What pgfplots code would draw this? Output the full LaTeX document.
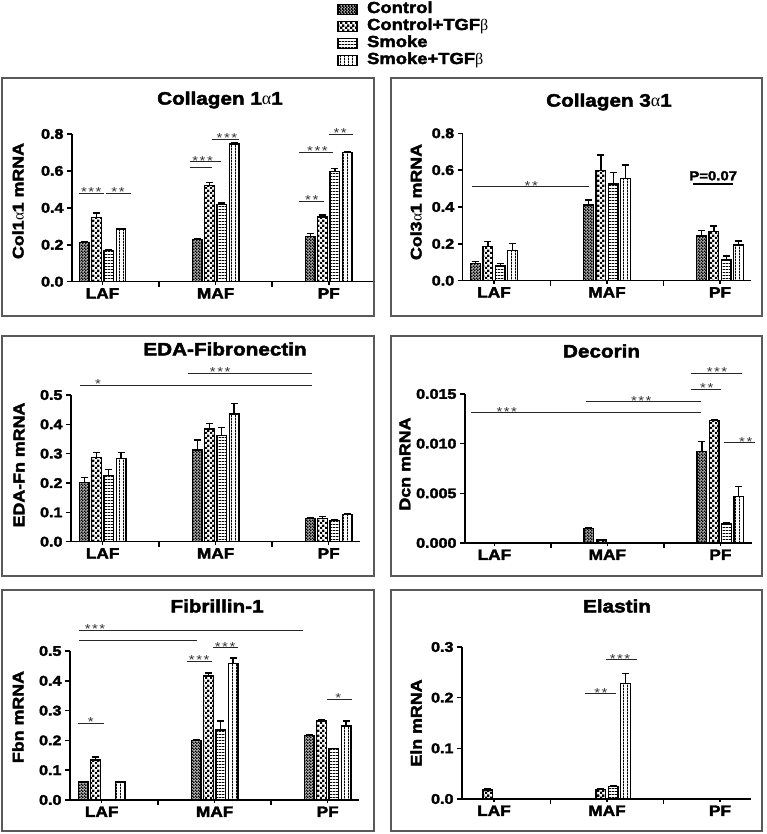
\documentclass[border=0pt]{standalone}
\usepackage{fontspec}
\setmainfont{Liberation Sans}[FakeStretch=1.15]
\newfontfamily\hb{Liberation Sans Bold}[FakeStretch=1.15, FakeBold=2.5]
\newfontfamily\symb{Liberation Serif}
\usepackage{pgfplots}
\pgfplotsset{compat=1.18}
\usetikzlibrary{patterns}

% bar fills
\pgfdeclarepatternformonly{finecheck}{\pgfpointorigin}{\pgfpoint{2.8pt}{2.8pt}}{\pgfpoint{2.8pt}{2.8pt}}{%
  \pgfseteorule
  \pgfpathrectangle{\pgfpointorigin}{\pgfpoint{2.8pt}{2.8pt}}%
  \pgfpathrectangle{\pgfpoint{0.1pt}{0.1pt}}{\pgfpoint{1.15pt}{1.15pt}}%
  \pgfpathrectangle{\pgfpoint{1.5pt}{1.5pt}}{\pgfpoint{1.15pt}{1.15pt}}%
  \pgfusepath{fill}}
\pgfdeclarepatternformonly{coarsecheck}{\pgfpointorigin}{\pgfpoint{5pt}{5pt}}{\pgfpoint{5pt}{5pt}}{%
  \pgfpathrectangle{\pgfpointorigin}{\pgfpoint{2.6pt}{2.6pt}}%
  \pgfpathrectangle{\pgfpoint{2.5pt}{2.5pt}}{\pgfpoint{2.6pt}{2.6pt}}%
  \pgfusepath{fill}}
\pgfdeclarepatternformonly{hlines}{\pgfpointorigin}{\pgfpoint{3pt}{3pt}}{\pgfpoint{3pt}{3pt}}{%
  \pgfpathrectangle{\pgfpointorigin}{\pgfpoint{3pt}{1.2pt}}%
  \pgfusepath{fill}}
\pgfdeclarepatternformonly{vlines}{\pgfpointorigin}{\pgfpoint{3.5pt}{3pt}}{\pgfpoint{3.5pt}{3pt}}{%
  \pgfpathrectangle{\pgfpointorigin}{\pgfpoint{1.1pt}{3pt}}%
  \pgfusepath{fill}}

\newcommand{\al}{{\symb α}}
\newcommand{\be}{{\symb β}}
\newcommand{\sthree}{*\kern1.5pt*\kern1.5pt*}
\newcommand{\stwo}{*\kern1.5pt*}

\pgfplotsset{
  bar base/.style={draw=black, line width=1.3pt, pattern color=black,
    legend image code/.code={\draw[##1] (0pt,-5pt) rectangle (19pt,5pt);},
    error bars/y dir=plus, error bars/y explicit,
    error bars/error bar style={line width=1.3pt, black},
    error bars/error mark options={rotate=90, mark size=3.5pt, line width=1.3pt, black}},
  b1/.style={bar base, pattern=finecheck},
  b2/.style={bar base, pattern=coarsecheck},
  b3/.style={bar base, pattern=hlines},
  b4/.style={bar base, pattern=vlines},
  panel/.style={
    scale only axis, anchor=south west, clip=false,
    axis lines*=left,
    axis line style={line width=1.5pt},
    tick style={black, line width=1.5pt},
    tick align=outside, major tick length=5pt,
    ybar=2.7pt, bar width=9.6pt,
    ymin=0, enlargelimits=false,
    xtick={0.5,1.5}, xticklabels={},
    extra x ticks={0,1,2}, extra x tick labels={LAF,MAF,PF},
    extra x tick style={major tick length=3pt,
      xticklabel style={font=\hb\fontsize{15}{16}\selectfont}},
    scaled y ticks=false,
    yticklabel style={font=\hb\fontsize{14}{15}\selectfont,
      /pgf/number format/.cd, fixed, fixed zerofill, precision=1, assume math mode=true},
  },
}
\tikzset{
  sl/.style={line width=0.9pt, black!85},
  st/.style={font=\fontsize{13}{13}\selectfont, anchor=base, inner sep=0pt, yshift=-3.5pt, black!80},
  ttl/.style={font=\hb\fontsize{18}{19}\selectfont},
  yl/.style={font=\hb\fontsize{15.5}{16}\selectfont, rotate=90},
  frame/.style={draw=black!65, line width=1.3pt},
}

\begin{document}
\begin{tikzpicture}
\useasboundingbox (0,0) rectangle (766pt,834pt);

% Collagen 1a1
\begin{axis}[panel, at={(72pt,552.3pt)}, width=302pt, height=147.7pt,
  xmin=-0.27, xmax=2.40, ymax=0.8, ytick={0,0.2,...,0.8},
  legend entries={Control, Control+TGF\be, Smoke, Smoke+TGF\be},
  legend style={draw=none, fill=none, at={(0.878,1.895)}, anchor=north west,
    font=\hb\fontsize{16}{17}\selectfont, legend cell align=left,
    row sep=2.5pt, column sep=9pt, inner sep=0pt,
    nodes={inner sep=0.5pt, text height=10.5pt, text depth=3pt}}]
\addplot[b1] coordinates {(0,0.214)+-(0,0.005) (1,0.228)+-(0,0.006) (2,0.243)+-(0,0.018)};
\addplot[b2] coordinates {(0,0.347)+-(0,0.025) (1,0.521)+-(0,0.016) (2,0.350)+-(0,0.012)};
\addplot[b3] coordinates {(0,0.168)+-(0,0.006) (1,0.420)+-(0,0.006) (2,0.596)+-(0,0.016)};
\addplot[b4] coordinates {(0,0.285)+-(0,0.005) (1,0.746)+-(0,0.006) (2,0.700)+-(0,0.005)};
\draw[sl] (-0.205,0.48) -- (0.013,0.48); \node[st] at (-0.10,0.48) {\sthree};
\draw[sl] (0.031,0.48) -- (0.25,0.48);   \node[st] at (0.137,0.48) {\stwo};
\draw[sl] (0.77,0.62) -- (0.97,0.62);
\draw[sl] (0.77,0.651) -- (1.05,0.651);  \node[st] at (0.885,0.651) {\sthree};
\draw[sl] (0.97,0.773) -- (1.21,0.773);  \node[st] at (1.10,0.773) {\sthree};
\draw[sl] (1.74,0.435) -- (1.96,0.435);  \node[st] at (1.85,0.435) {\stwo};
\draw[sl] (1.74,0.70) -- (2.04,0.70);    \node[st] at (1.90,0.70) {\sthree};
\draw[sl] (2.0,0.80) -- (2.21,0.80);     \node[st] at (2.10,0.80) {\stwo};
\end{axis}

% Collagen 3a1
\begin{axis}[panel, at={(462.7pt,553.3pt)}, width=287.8pt, height=147.4pt,
  xmin=-0.277, xmax=2.27, ymax=0.8, ytick={0,0.2,...,0.8}]
\addplot[b1] coordinates {(0,0.093)+-(0,0.012) (1,0.411)+-(0,0.027) (2,0.242)+-(0,0.029)};
\addplot[b2] coordinates {(0,0.186)+-(0,0.028) (1,0.597)+-(0,0.085) (2,0.266)+-(0,0.031)};
\addplot[b3] coordinates {(0,0.079)+-(0,0.014) (1,0.525)+-(0,0.061) (2,0.112)+-(0,0.022)};
\addplot[b4] coordinates {(0,0.164)+-(0,0.036) (1,0.555)+-(0,0.073) (2,0.194)+-(0,0.021)};
\draw[sl] (-0.197,0.51) -- (0.843,0.51); \node[st] at (0.33,0.51) {\stwo};
\draw[line width=1.2pt] (1.764,0.525) -- (2.112,0.525);
\node[font=\hb\fontsize{13}{14}\selectfont, anchor=base, inner sep=0pt] at (1.94,0.545) {P=0.07};
\end{axis}

% EDA-Fibronectin
\begin{axis}[panel, at={(71pt,292.3pt)}, width=289.3pt, height=146.7pt,
  xmin=-0.28, xmax=2.28, ymax=0.5, ytick={0,0.1,...,0.5}]
\addplot[b1] coordinates {(0,0.201)+-(0,0.018) (1,0.313)+-(0,0.034) (2,0.080)+-(0,0.003)};
\addplot[b2] coordinates {(0,0.2875)+-(0,0.016) (1,0.384)+-(0,0.020) (2,0.079)+-(0,0.006)};
\addplot[b3] coordinates {(0,0.225)+-(0,0.022) (1,0.363)+-(0,0.027) (2,0.072)+-(0,0.004)};
\addplot[b4] coordinates {(0,0.284)+-(0,0.019) (1,0.435)+-(0,0.037) (2,0.093)+-(0,0.004)};
\draw[sl] (-0.2,0.534) -- (1.85,0.534);  \node[st] at (-0.04,0.534) {*};
\draw[sl] (0.757,0.575) -- (1.85,0.575); \node[st] at (1.04,0.575) {\sthree};
\end{axis}

% Decorin
\begin{axis}[panel, at={(465pt,291pt)}, width=287pt, height=149pt,
  xmin=-0.26, xmax=2.28, ymax=0.015, ytick={0,0.005,0.010,0.015},
  yticklabel style={/pgf/number format/precision=3}]
\addplot[b1] coordinates {(0,0)+-(0,0) (1,0.00145)+-(0,0.0001) (2,0.0092)+-(0,0.001)};
\addplot[b2] coordinates {(0,0)+-(0,0) (1,0.0003)+-(0,0) (2,0.0123)+-(0,0.0001)};
\addplot[b3] coordinates {(0,0)+-(0,0) (1,0)+-(0,0) (2,0.0019)+-(0,0.0001)};
\addplot[b4] coordinates {(0,0)+-(0,0) (1,0)+-(0,0) (2,0.0047)+-(0,0.001)};
\draw[sl] (-0.208,0.0131) -- (1.827,0.0131); \node[st] at (0.11,0.0131) {\sthree};
\draw[sl] (0.81,0.0142) -- (1.827,0.0142);   \node[st] at (1.30,0.0142) {\sthree};
\draw[sl] (1.739,0.01546) -- (2.004,0.01546); \node[st] at (1.88,0.01546) {\stwo};
\draw[sl] (1.739,0.0171) -- (2.19,0.0171);   \node[st] at (1.97,0.0171) {\sthree};
\draw[sl] (2.03,0.01008) -- (2.305,0.01008); \node[st] at (2.225,0.01008) {\stwo};
\end{axis}

% Fibrillin-1
\begin{axis}[panel, at={(70pt,34pt)}, width=289.3pt, height=149pt,
  xmin=-0.28, xmax=2.28, ymax=0.5, ytick={0,0.1,...,0.5}]
\addplot[b1] coordinates {(0,0.060)+-(0,0.003) (1,0.200)+-(0,0.003) (2,0.217)+-(0,0.003)};
\addplot[b2] coordinates {(0,0.134)+-(0,0.010) (1,0.416)+-(0,0.010) (2,0.265)+-(0,0.003)};
\addplot[b3] coordinates {(0,0)+-(0,0) (1,0.235)+-(0,0.030) (2,0.173)+-(0,0)};
\addplot[b4] coordinates {(0,0.060)+-(0,0.002) (1,0.459)+-(0,0.018) (2,0.248)+-(0,0.017)};
\draw[sl] (-0.2,0.570) -- (1.783,0.570); \node[st] at (-0.058,0.570) {\sthree};
\draw[sl] (-0.2,0.537) -- (0.845,0.537);
\draw[sl] (0.757,0.466) -- (0.978,0.466); \node[st] at (0.863,0.466) {\sthree};
\draw[sl] (0.987,0.511) -- (1.208,0.511); \node[st] at (1.093,0.511) {\sthree};
\draw[sl] (-0.208,0.257) -- (0.022,0.257); \node[st] at (-0.095,0.257) {*};
\draw[sl] (1.996,0.339) -- (2.217,0.339); \node[st] at (2.093,0.339) {*};
\end{axis}

% Elastin
\begin{axis}[panel, at={(462pt,35pt)}, width=288.5pt, height=152pt,
  xmin=-0.283, xmax=2.27, ymax=0.3, ytick={0,0.1,...,0.3}]
\addplot[b1] coordinates {(0,0)+-(0,0) (1,0.001)+-(0,0) (2,0)+-(0,0)};
\addplot[b2] coordinates {(0,0.018)+-(0,0.002) (1,0.019)+-(0,0.002) (2,0.001)+-(0,0)};
\addplot[b3] coordinates {(0,0)+-(0,0) (1,0.025)+-(0,0.002) (2,0)+-(0,0)};
\addplot[b4] coordinates {(0,0)+-(0,0) (1,0.228)+-(0,0.020) (2,0)+-(0,0)};
\draw[sl] (0.805,0.208) -- (1.08,0.208); \node[st] at (0.947,0.208) {\stwo};
\draw[sl] (0.99,0.275) -- (1.265,0.275); \node[st] at (1.115,0.275) {\sthree};
\end{axis}

% titles and y labels
\node[ttl] at (220pt,734pt) {Collagen 1\al1};
\node[ttl] at (609pt,732pt) {Collagen 3\al1};
\node[ttl] at (225pt,485pt) {EDA-Fibronectin};
\node[ttl] at (601.5pt,483pt) {Decorin};
\node[ttl] at (217pt,228pt) {Fibrillin-1};
\node[ttl] at (617pt,228pt) {Elastin};
\node[yl] at (18pt,633pt) {Col1\al1 mRNA};
\node[yl] at (416pt,632pt) {Col3\al1 mRNA};
\node[yl] at (19pt,369pt) {EDA-Fn mRNA};
\node[yl] at (405pt,370pt) {Dcn mRNA};
\node[yl] at (18pt,117pt) {Fbn mRNA};
\node[yl] at (416pt,111pt) {Eln mRNA};

% panel frames
\draw[frame] (2pt,518pt) rectangle (374pt,756pt);
\draw[frame] (391pt,518pt) rectangle (762pt,756pt);
\draw[frame] (2pt,258pt) rectangle (374pt,498pt);
\draw[frame] (391pt,258pt) rectangle (762pt,498pt);
\draw[frame] (2pt,3pt) rectangle (374pt,244pt);
\draw[frame] (391pt,3pt) rectangle (762pt,244pt);
\end{tikzpicture}
\end{document}
